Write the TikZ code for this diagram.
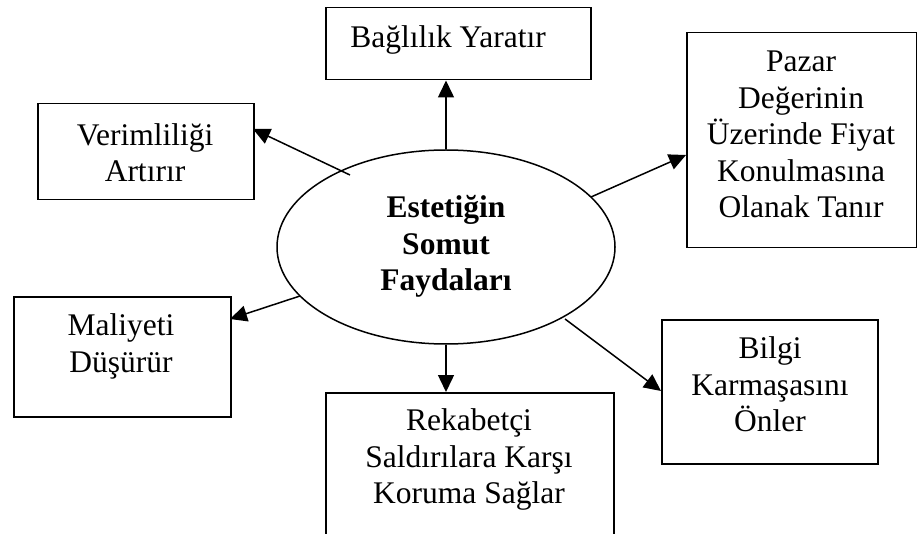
\documentclass[tikz,border=0pt]{standalone}
\usepackage{fontspec}
\setmainfont{Liberation Serif}
\usetikzlibrary{arrows.meta,shapes.geometric}
\begin{document}
\begin{tikzpicture}[x=1pt,y=-1pt,
  box/.style={draw, line width=1.5pt, rectangle, inner sep=0pt, anchor=north west},
  txt/.style={font=\fontsize{31.5}{36.5}\selectfont, align=center, inner sep=0pt},
  hub/.style={draw, ellipse, line width=1.5pt, inner sep=0pt,
    font=\fontsize{31.5}{36.5}\selectfont\bfseries, align=center},
  arr/.style={line width=1.5pt, -{Triangle[length=17pt,width=16pt]}}]
\clip (0,0) rectangle (917,534);

% central ellipse
\node[hub, minimum width=338pt, minimum height=194pt] (c) at (446,247)
  {\strut Estetiğin\\\strut Somut\\\strut Faydaları};

% surrounding boxes
\node[box, minimum width=265pt, minimum height=72pt]  (top)  at (325,7)   {};
\node[box, minimum width=216pt, minimum height=96pt]  (ver)  at (37,103)  {};
\node[box, minimum width=230pt, minimum height=215pt] (paz)  at (686,32)  {};
\node[box, minimum width=217pt, minimum height=120pt] (mal)  at (13,296)  {};
\node[box, minimum width=288pt, minimum height=170pt] (rek)  at (325,392) {};
\node[box, minimum width=216pt, minimum height=144pt] (bil)  at (661,319) {};

% box texts
\node[txt] (ttop) at (448,40.7)  {\strut Bağlılık Yaratır};
\node[txt] (tver) at (145,156.2) {\strut Verimliliği\\\strut Artırır};
\node[txt] (tpaz) at (801,137.7) {\strut Pazar\\\strut Değerinin\\\strut Üzerinde Fiyat\\\strut Konulmasına\\\strut Olanak Tanır};
\node[txt] (tmal) at (121,346.7) {\strut Maliyeti\\\strut Düşürür};
\node[txt] (trek) at (469,459.7) {\strut Rekabetçi\\\strut Saldırılara Karşı\\\strut Koruma Sağlar};
\node[txt] (tbil) at (770,387.7) {\strut Bilgi\\\strut Karmaşasını\\\strut Önler};

% arrow end points
\coordinate (sver) at (350,175);
\coordinate (ever) at (253,129);
\coordinate (spaz) at (591,197);
\coordinate (epaz) at (686,155);
\coordinate (smal) at (300,296);
\coordinate (emal) at (230,319);
\coordinate (sbil) at (565,319);
\coordinate (ebil) at (661,391);

% connectors
\draw[arr] (c.north) -- (c.north |- top.south);
\draw[arr] (c.south) -- (c.south |- rek.north);
\draw[arr] (sver) -- (ever);
\draw[arr] (spaz) -- (epaz);
\draw[arr] (smal) -- (emal);
\draw[arr] (sbil) -- (ebil);
\end{tikzpicture}
\end{document}
